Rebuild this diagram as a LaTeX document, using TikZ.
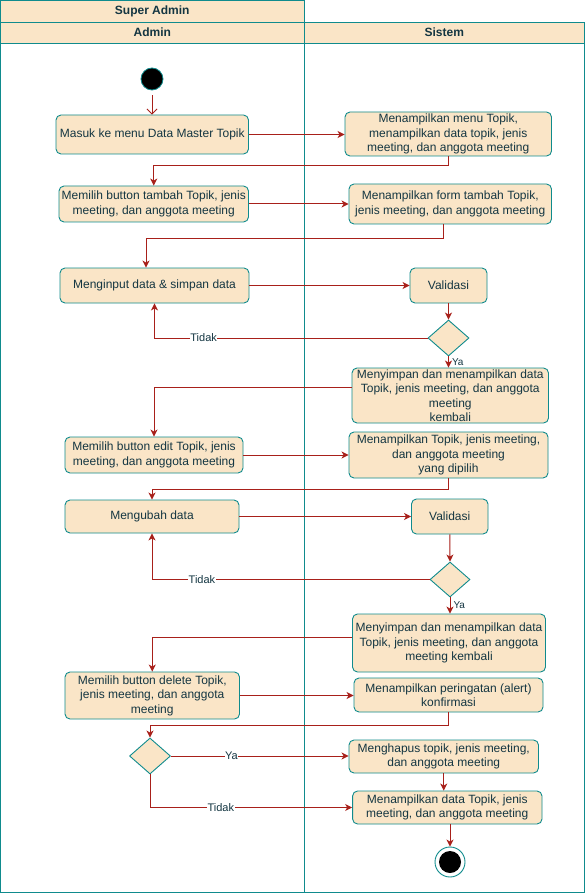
\documentclass[tikz,border=0pt]{standalone}
\usepackage{fontspec}
\setmainfont{Liberation Sans}
\usetikzlibrary{shapes.geometric,arrows.meta,calc}
\definecolor{fillc}{HTML}{FAE5C7}
\definecolor{strk}{HTML}{0F8B8D}
\definecolor{arr}{HTML}{A8201A}
\definecolor{txt}{HTML}{143642}
\begin{document}
\begin{tikzpicture}[x=1pt,y=-1pt,
  act/.style={draw=strk, line width=0.9pt, fill=fillc, rounded corners=5pt, text=txt,
    align=center, inner sep=0pt, font=\fontsize{12}{14.5}\selectfont},
  dec/.style={diamond, draw=strk, line width=0.9pt, fill=fillc, inner sep=0pt},
  hdr/.style={draw=strk, line width=0.9pt, fill=fillc, text=txt, font=\bfseries\fontsize{12}{14}\selectfont},
  lane/.style={draw=strk, line width=0.9pt},
  flow/.style={draw=arr, line width=1pt, -{Stealth[length=7pt,width=7pt,inset=2pt]}},
  openflow/.style={draw=arr, line width=0.8pt, -{Straight Barb[length=5pt,width=10pt]}},
  lab/.style={fill=white, inner sep=0.5pt, text=txt, font=\fontsize{11}{12}\selectfont},
  ylab/.style={inner sep=0pt, text=txt, font=\fontsize{10}{11}\selectfont, anchor=west, xshift=3pt}
]
\useasboundingbox (0,0) rectangle (585,893);
\fill[white] (0,0) rectangle (585,893);
% pool and lanes
\draw[hdr] (0.5,0.5) rectangle (304,22) node[midway] (hsa) {Super Admin};
\draw[hdr] (0.5,22) rectangle (304,43) node[midway] (hadm) {Admin};
\draw[hdr] (304,22) rectangle (584.5,43) node[midway] (hsis) {Sistem};
\draw[lane] (0.5,43) rectangle (304,892.5);
\draw[lane] (304,43) rectangle (584.5,892.5);

% nodes
\node[circle, fill=black, draw=strk, line width=0.8pt, minimum size=22pt, inner sep=0pt] (start) at (152,79) {};
\node[act, minimum width=192.5pt, minimum height=39pt] (masuk) at (152.25,134.5) {Masuk ke menu Data Master Topik};
\node[act, minimum width=206.5pt, minimum height=44pt] (menu) at (448.25,134) {Menampilkan menu Topik,\\menampilkan data topik, jenis\\meeting, dan anggota meeting};
\node[act, minimum width=189.5pt, minimum height=36pt] (tambah) at (153.75,204) {Memilih button tambah Topik, jenis\\meeting, dan anggota meeting};
\node[act, minimum width=202.5pt, minimum height=40pt] (form) at (450.25,204) {Menampilkan form tambah Topik,\\jenis meeting, dan anggota meeting};
\node[act, minimum width=189pt, minimum height=35pt] (input) at (154.5,285.5) {Menginput data \& simpan data};
\node[act, minimum width=77pt, minimum height=35pt] (val1) at (448.5,285.5) {Validasi};
\node[dec, minimum width=41pt, minimum height=36pt] (dec1) at (448.5,338) {};
\node[act, minimum width=196.5pt, minimum height=55pt] (simpan1) at (450.25,395.5) {Menyimpan dan menampilkan data\\Topik, jenis meeting, dan anggota\\meeting\\kembali};
\node[act, minimum width=178pt, minimum height=36pt] (edit) at (154,455) {Memilih button edit Topik, jenis\\meeting, dan anggota meeting};
\node[act, minimum width=199pt, minimum height=46pt] (tampil) at (448.5,455) {Menampilkan Topik, jenis meeting,\\dan anggota meeting\\yang dipilih};
\node[act, minimum width=174pt, minimum height=33pt] (ubah) at (152,516.5) {Mengubah data};
\node[act, minimum width=76.5pt, minimum height=35pt] (val2) at (449.75,516.5) {Validasi};
\node[dec, minimum width=40pt, minimum height=35pt] (dec2) at (450,579.5) {};
\node[act, minimum width=193pt, minimum height=58pt] (simpan2) at (449,643) {Menyimpan dan menampilkan data\\Topik, jenis meeting, dan anggota\\meeting kembali};
\node[act, minimum width=174.5pt, minimum height=47pt] (delete) at (152.25,695.5) {Memilih button delete Topik,\\jenis meeting, dan anggota\\meeting};
\node[act, minimum width=189pt, minimum height=34pt] (alert) at (448.5,695) {Menampilkan peringatan (alert)\\konfirmasi};
\node[dec, minimum width=41pt, minimum height=36pt] (dec3) at (150,756) {};
\node[act, minimum width=189.5pt, minimum height=33pt] (hapus) at (443.75,756.5) {Menghapus topik, jenis meeting,\\dan anggota meeting};
\node[act, minimum width=189.4pt, minimum height=33pt] (data) at (447.3,807.5) {Menampilkan data Topik, jenis\\meeting, dan anggota meeting};
\node[circle, fill=white, draw=strk, line width=0.9pt, minimum size=30pt, inner sep=0pt] (endo) at (450,862) {};
\node[circle, fill=black, minimum size=22pt, inner sep=0pt] (endi) at (endo.center) {};

% connectors
\draw[openflow] ([yshift=-5pt]start.south) -- (start.south |- masuk.north);
\draw[flow] (masuk.east) -- (masuk.east -| menu.west);
\draw[flow] (menu.south) -- ++(0,9) -| (tambah.north);
\draw[flow] (tambah.east) -- (tambah.east -| form.west);
\draw[flow] ([xshift=-7pt]form.south) -- ++(0,14) -| ([xshift=-8.5pt]input.north);
\draw[flow] (input.east) -- (val1.west);
\draw[flow] (val1.south) -- (dec1.north);
\draw[flow] (dec1.west) -| node[lab, pos=0.41] {Tidak} (input.south);
\draw[flow] (dec1.south) -- node[ylab, pos=0.5] {Ya} (dec1.south |- simpan1.north);
\draw[flow] ([yshift=8.5pt]simpan1.west) -| (edit.north);
\draw[flow] (edit.east) -- (edit.east -| tampil.west);
\draw[flow] (tampil.south) -- ++(0,11) -| (ubah.north);
\draw[flow] (ubah.east) -- (ubah.east -| val2.west);
\draw[flow] (val2.south) -- (dec2.north);
\draw[flow] (dec2.west) -| node[lab, pos=0.41] {Tidak} (ubah.south);
\draw[flow] (dec2.south) -- node[ylab, pos=0.47] {Ya} (dec2.south |- simpan2.north);
\draw[flow] ([yshift=6pt]simpan2.west) -| (delete.north);
\draw[flow] (delete.east) -- (delete.east -| alert.west);
\draw[flow] (alert.south) -- ++(0,13) -| (dec3.north);
\draw[flow] (dec3.east) -- node[lab, pos=0.34] {Ya} (dec3.east -| hapus.west);
\draw[flow] (dec3.south) |- node[lab, pos=0.675] {Tidak} (data.west);
\draw[flow] (hapus.south) -- (hapus.south |- data.north);
\draw[flow] (data.south -| endo) -- (endo.north);
\end{tikzpicture}
\end{document}
